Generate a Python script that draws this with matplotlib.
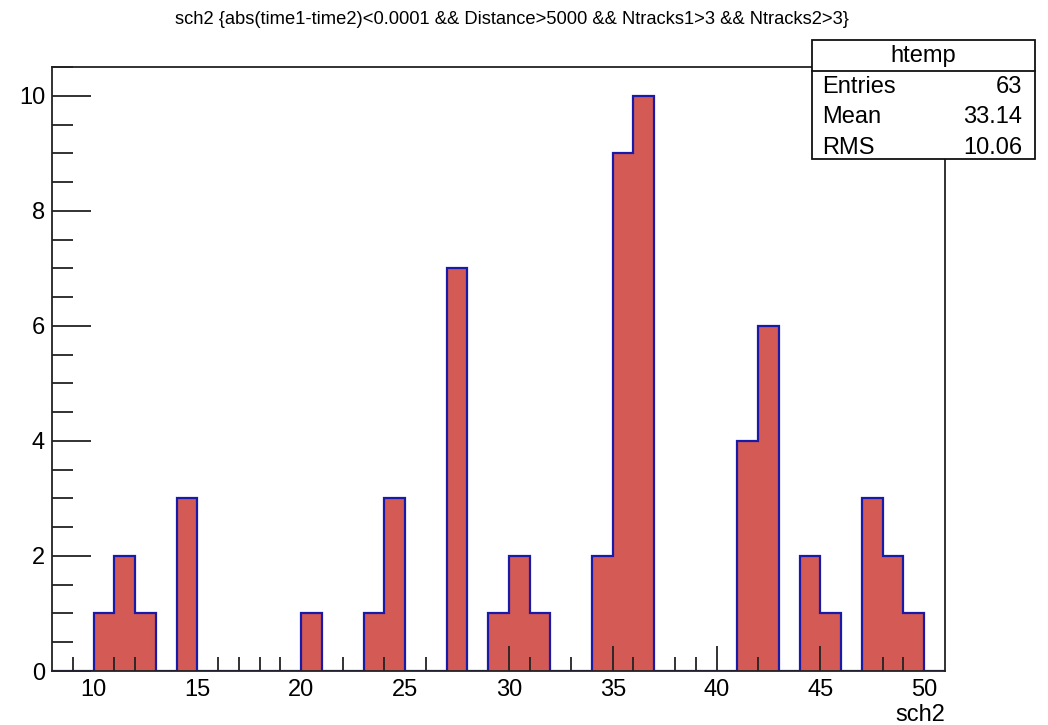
import numpy as np
import matplotlib
matplotlib.use("Agg")
import matplotlib.pyplot as plt
from matplotlib.patches import Rectangle
from matplotlib.lines import Line2D

plt.rcParams['font.family'] = ['Liberation Sans', 'DejaVu Sans']

# Data: bin edges (width 1) and counts
bin_edges = list(range(8, 52))  # 8..51
bin_counts = {10: 1, 11: 2, 12: 1, 14: 3, 20: 1, 23: 1, 24: 3, 27: 7,
              29: 1, 30: 2, 31: 1, 34: 2, 35: 9, 36: 10, 41: 4, 42: 6,
              44: 2, 45: 1, 47: 3, 48: 2, 49: 1}
counts = [bin_counts.get(e, 0) for e in bin_edges[:-1]]

title = "sch2 {abs(time1-time2)<0.0001 && Distance>5000 && Ntracks1>3 && Ntracks2>3}"
xlabel = "sch2"
stat_name = "htemp"
stat_rows = [("Entries", "63"), ("Mean", "33.14"), ("RMS", "10.06")]

W, H = 1048, 725
fig = plt.figure(figsize=(W / 100, H / 100), dpi=100)
ax = fig.add_axes([52 / W, 1 - 671 / H, (945 - 52) / W, (671 - 67) / H])

fill_c = '#d45a56'
edge_c = '#1a1aa8'
ax.stairs(counts, bin_edges, fill=True, color=fill_c, zorder=2)
ax.stairs(counts, bin_edges, fill=False, color=edge_c, linewidth=1.6, zorder=3)

ax.set_xlim(8, 51)
ax.set_ylim(0, 10.5)

ax.set_xticks([10, 15, 20, 25, 30, 35, 40, 45, 50])
ax.set_xticks(np.arange(9, 51, 1), minor=True)
ax.set_yticks([0, 2, 4, 6, 8, 10])
ax.set_yticks(np.arange(0, 10.51, 0.5), minor=True)

ax.tick_params(axis='both', which='both', direction='in', color='#222222', width=1.3,
               top=False, right=False, labelsize=17, zorder=5)
ax.tick_params(axis='x', which='major', length=18, pad=6)
ax.tick_params(axis='x', which='minor', length=10)
ax.tick_params(axis='y', which='major', length=28, pad=5)
ax.tick_params(axis='y', which='minor', length=15)
for t in ax.xaxis.get_major_ticks() + ax.xaxis.get_minor_ticks() + \
        ax.yaxis.get_major_ticks() + ax.yaxis.get_minor_ticks():
    t.tick1line.set_zorder(5)
ax.set_axisbelow(False)
for s in ax.spines.values():
    s.set_color('#222222')
    s.set_linewidth(1.3)
    s.set_zorder(6)

ax.text(1.0, -0.055, xlabel, transform=ax.transAxes, ha='right', va='top', fontsize=17)

fig.text(512 / W, 1 - 20 / H, title, ha='center', va='center', fontsize=13.2)

# Stats box
x0, x1 = 812 / W, 1035 / W
y0, y1 = 1 - 159 / H, 1 - 40 / H
fig.patches.append(Rectangle((x0, y0), x1 - x0, y1 - y0, transform=fig.transFigure,
                             facecolor='white', edgecolor='#111111', linewidth=1.3, zorder=10))
ysep = 1 - 71 / H
fig.lines.append(Line2D([x0, x1], [ysep, ysep], transform=fig.transFigure,
                        color='#111111', linewidth=1.3, zorder=11))
fig.text((x0 + x1) / 2, 1 - 56 / H, stat_name, ha='center', va='center', fontsize=17, zorder=12)
row_y = [87, 117, 148]
for (k, v), yy in zip(stat_rows, row_y):
    fig.text(822 / W, 1 - yy / H, k, ha='left', va='center', fontsize=17, zorder=12)
    fig.text(1022 / W, 1 - yy / H, v, ha='right', va='center', fontsize=17, zorder=12)

fig.savefig("out.png", dpi=100)
